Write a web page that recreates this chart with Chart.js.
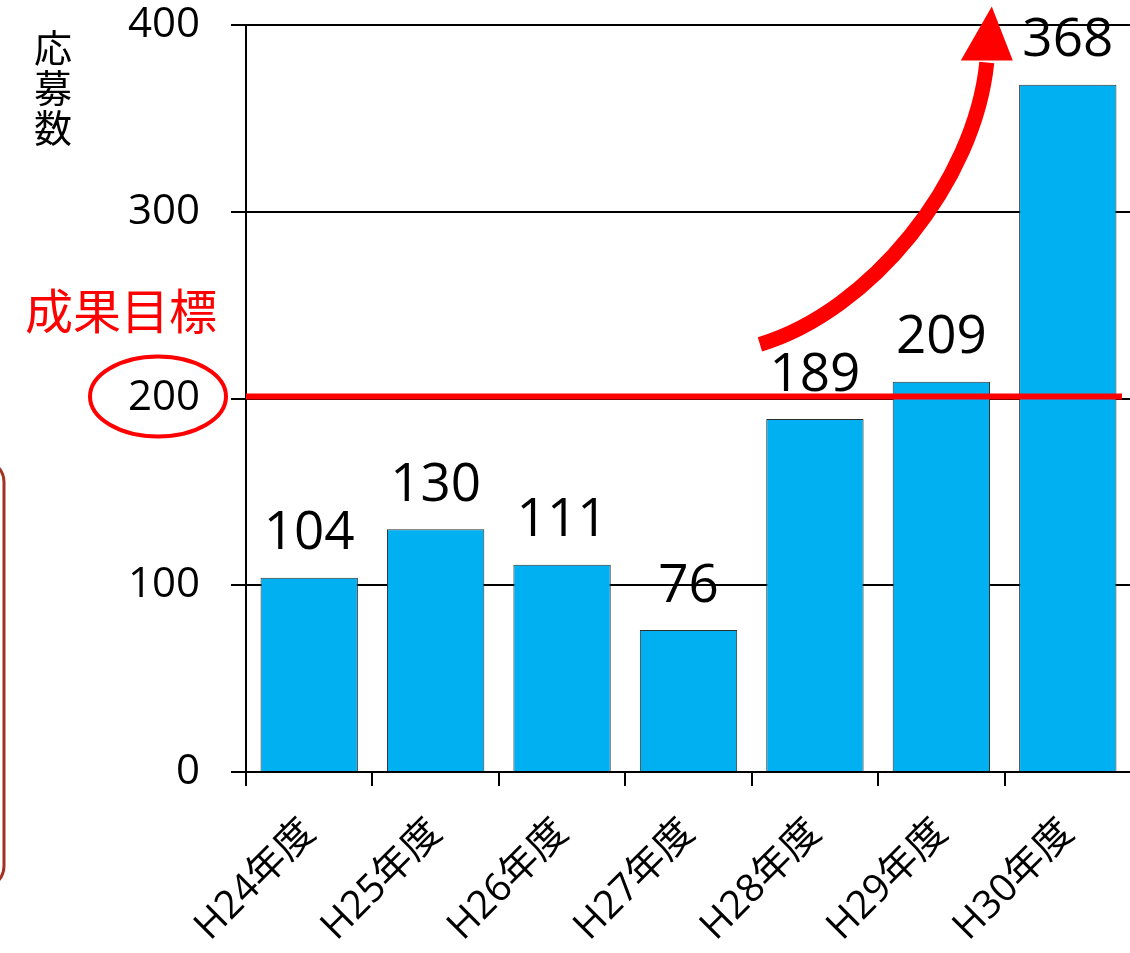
<!DOCTYPE html>
<html>
<head>
<meta charset="utf-8">
<script src="https://cdn.jsdelivr.net/npm/chart.js@4"></script>
<style>
  html, body { margin: 0; padding: 0; background: #fff; overflow: hidden; }
</style>
</head>
<body>
<canvas id="chart" width="1136" height="953"></canvas>
<script>
// data
const years = ['H24年度', 'H25年度', 'H26年度', 'H27年度', 'H28年度', 'H29年度', 'H30年度'];
const applications = [104, 130, 111, 76, 189, 209, 368];
const yTicks = [0, 100, 200, 300, 400];
const targetValue = 200;
const yTitle = ['応', '募', '数'];
const targetLabel = '成果目標';

const FONT = '"Open Sans", "Noto Sans CJK JP", sans-serif';
const JP = '"Noto Sans CJK JP", sans-serif';

// value labels, target line, arrow and other annotations
const extras = {
  id: 'extras',
  afterDraw(chart) {
    const ctx = chart.ctx;
    const { x, y } = chart.scales;
    const area = chart.chartArea;
    ctx.save();

    // bar values
    ctx.fillStyle = '#000';
    ctx.font = '53px ' + FONT;
    ctx.textAlign = 'center';
    ctx.textBaseline = 'bottom';
    chart.getDatasetMeta(0).data.forEach((bar, i) => {
      ctx.fillText(String(applications[i]), bar.x, bar.y - 17);
    });

    // target line
    const ty = y.getPixelForValue(targetValue) - 2;
    ctx.strokeStyle = '#ff0000';
    ctx.lineWidth = 6;
    ctx.beginPath();
    ctx.moveTo(area.left, ty);
    ctx.lineTo(area.right - 9, ty);
    ctx.stroke();

    // ellipse round the 200 tick
    ctx.lineWidth = 4;
    ctx.beginPath();
    ctx.ellipse(158, ty, 68, 40, 0, 0, Math.PI * 2);
    ctx.stroke();

    // target caption
    ctx.fillStyle = '#ff0000';
    ctx.font = '48px ' + JP;
    ctx.textBaseline = 'middle';
    ctx.fillText(targetLabel, 121, ty - 86);

    // red growth arrow
    const x0 = x.getPixelForValue(4) - 55;
    const y0 = y.getPixelForValue(229);
    const x3 = x.getPixelForValue(6) - 81;
    const y3 = y.getPixelForValue(381);
    ctx.lineWidth = 15;
    ctx.beginPath();
    ctx.moveTo(x0, y0);
    ctx.bezierCurveTo(x0 + 110, y0 - 33, x3 - 12, y3 + 122, x3, y3 + 2);
    ctx.stroke();
    ctx.beginPath();
    ctx.moveTo(x3 - 26, y3);
    ctx.lineTo(x3 + 26, y3);
    ctx.lineTo(x3 + 5, y3 - 54);
    ctx.closePath();
    ctx.fill();

    // y axis title, stacked
    ctx.fillStyle = '#000';
    ctx.font = '38px ' + JP;
    yTitle.forEach((c, i) => ctx.fillText(c, 53, 48 + i * 40));

    // rounded box edge at left
    ctx.strokeStyle = '#a33222';
    ctx.lineWidth = 3;
    ctx.beginPath();
    ctx.roundRect(-200, 460, 204, 428, 22);
    ctx.stroke();

    ctx.restore();
  }
};

new Chart(document.getElementById('chart'), {
  type: 'bar',
  data: {
    labels: years,
    datasets: [{
      data: applications,
      backgroundColor: '#00b0f0',
      borderColor: '#2e2e2e',
      borderWidth: 1,
      categoryPercentage: 1,
      barPercentage: 0.77
    }]
  },
  options: {
    responsive: false,
    animation: false,
    devicePixelRatio: 1,
    layout: { padding: { top: 25, right: 5, left: 0, bottom: 0 } },
    plugins: { legend: { display: false }, tooltip: { enabled: false } },
    scales: {
      x: {
        offset: true,
        grid: { offset: true, drawOnChartArea: false, drawTicks: true, tickLength: 14, color: '#000', lineWidth: 2 },
        border: { display: true, color: '#000', width: 2 },
        ticks: { minRotation: 45, maxRotation: 45, padding: 24, color: '#000', font: { size: 39, family: FONT } },
        afterFit: s => { s.height = 181; }
      },
      y: {
        min: yTicks[0],
        max: yTicks[yTicks.length - 1],
        afterBuildTicks: s => { s.ticks = yTicks.map(v => ({ value: v })); },
        grid: { color: '#000', lineWidth: 2, tickLength: 15 },
        border: { display: true, color: '#000', width: 2 },
        ticks: { padding: 31, color: '#000', font: { size: 42, family: FONT } },
        afterFit: s => { s.width = 246; s.paddingTop = 0; s.paddingBottom = 0; }
      }
    }
  },
  plugins: [extras]
});
</script>
</body>
</html>
